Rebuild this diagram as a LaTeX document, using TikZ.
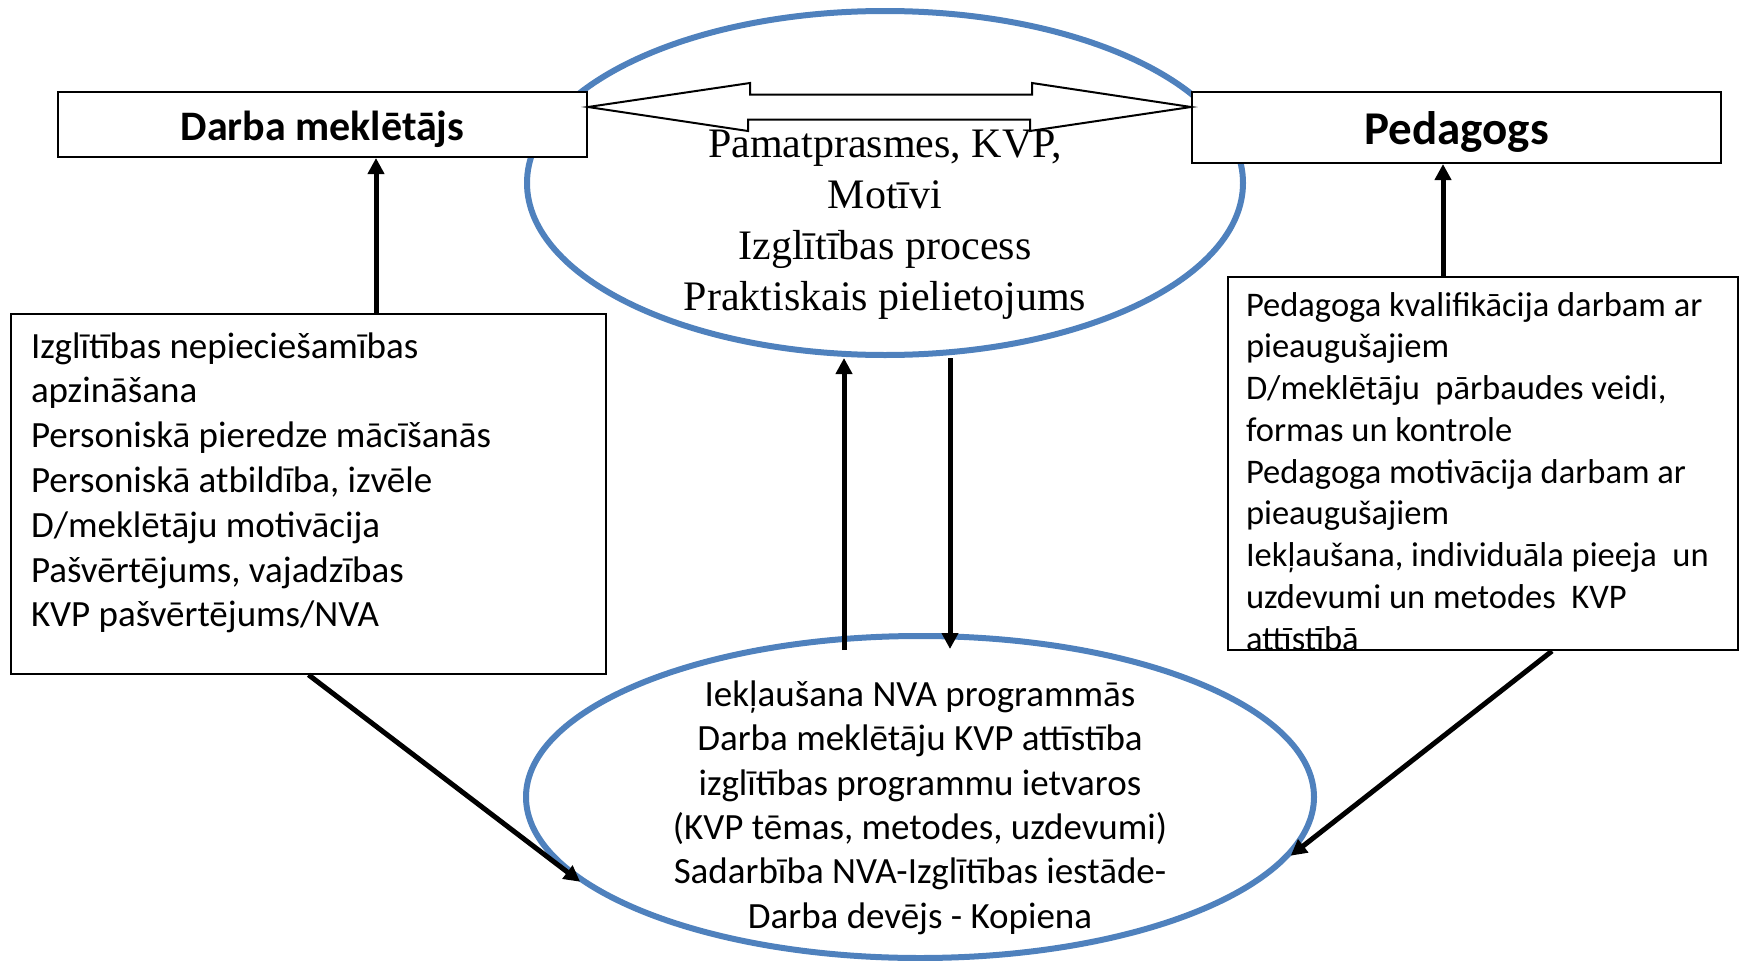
\documentclass[tikz,border=0pt]{standalone}
\usepackage{fontspec}
\setmainfont{Carlito}
\newfontfamily\timesfont{Liberation Serif}
\usepackage{tikz}
\usetikzlibrary{arrows.meta, shapes.geometric, calc}
\definecolor{ovalblue}{HTML}{4F81BD}

\begin{document}
\begin{tikzpicture}[
    x=1pt, y=-1pt,
    oval/.style={draw=ovalblue, line width=6pt, ellipse, inner sep=0pt},
    hdr/.style={draw, line width=2pt, fill=white, inner sep=0pt, minimum width=529pt, anchor=north west},
    info/.style={draw, line width=2pt, fill=white, anchor=north west, align=flush left, inner ysep=0pt},
    txt/.style={align=center, inner sep=0pt, anchor=north},
    arr/.style={-{Triangle[length=16pt, width=16pt]}, line width=5pt},
    blockarr/.style={draw, line width=2pt, fill=white, line join=miter},
]
\useasboundingbox (0,0) rectangle (1746,961);

% === Ovals ===
\node[oval, minimum width=716pt, minimum height=344pt] (core) at (885,183) {};
\node[oval, minimum width=788pt, minimum height=322pt] (prog) at (920,797) {};

\node[txt, font=\timesfont\fontsize{42}{51}\selectfont] (coretxt) at (885,117)
    {\rule{0pt}{40pt}Pamatprasmes, KVP,\\ Motīvi\\ Izglītības process\\ Praktiskais pielietojums};
\node[txt, font=\fontsize{37}{44.4}\selectfont] (progtxt) at (920,670)
    {\rule{0pt}{36pt}Iekļaušana NVA programmās\\ Darba meklētāju KVP attīstība\\ izglītības programmu ietvaros\\
     (KVP tēmas, metodes, uzdevumi)\\ Sadarbība NVA-Izglītības iestāde-\\ Darba devējs - Kopiena};

% === Headers ===
\node[hdr, minimum height=65pt, text height=34pt, text depth=3pt,
      font=\bfseries\fontsize{42}{50}\selectfont] (seek) at (57,91) {Darba meklētājs};
\node[hdr, minimum height=71pt, text height=36pt, text depth=3pt,
      font=\bfseries\fontsize{47}{56}\selectfont] (ped) at (1191,91) {Pedagogs};

% === Info boxes ===
\node[info, text width=555pt, inner xsep=20pt, font=\fontsize{37}{44.8}\selectfont] (seekinfo) at (10,313)
    {\rule{0pt}{44pt}Izglītības nepieciešamības\\ apzināšana\\ Personiskā pieredze mācīšanās\\
     Personiskā atbildība, izvēle\\ D/meklētāju motivācija\\ Pašvērtējums, vajadzības\\
     KVP pašvērtējums/NVA\rule[-47pt]{0pt}{47pt}};
\node[info, text width=474pt, inner xsep=18pt, font=\fontsize{34.5}{41.75}\selectfont] (pedinfo) at (1227,276)
    {\rule{0pt}{39pt}Pedagoga kvalifikācija darbam ar\\ pieaugušajiem\\ D/meklētāju~ pārbaudes veidi,\\
     formas un kontrole\\ Pedagoga motivācija darbam ar\\ pieaugušajiem\\
     Iekļaušana, individuāla pieeja~ un\\ uzdevumi un metodes~ KVP\\ \smash{attīstībā}};

% --- Block arrow between headers ---
\coordinate (tipL) at ($(seek.north east)+(0,16)$);
\coordinate (tipR) at ($(ped.north west)+(0,16)$);
\draw[blockarr] (tipL) -- ++(162,-24) -- ++(0,11.5) -- ++(282,0) -- ++(0,-11.5) -- (tipR)
    -- ++(-161,24) -- ++(0,-11.5) -- ++(-282,0) -- ++(0,11.5) -- cycle;

% --- Connectors ---
\coordinate (xL) at (376,0);
\coordinate (xR) at (1443,0);
\draw[arr] (seekinfo.north -| xL) -- (seek.south -| xL);
\draw[arr] (pedinfo.north -| xR) -- (ped.south -| xR);

\coordinate (mUp) at (844,650);
\coordinate (mDn) at (950,649);
\draw[arr] (mUp) -- (mUp |- core.south);
\draw[arr] (mDn |- core.south) -- (mDn);

\draw[arr] (seekinfo.south) -- (prog.194);
\draw[arr] ($(pedinfo.south)+(69,0)$) -- (prog.351);

\end{tikzpicture}
\end{document}
